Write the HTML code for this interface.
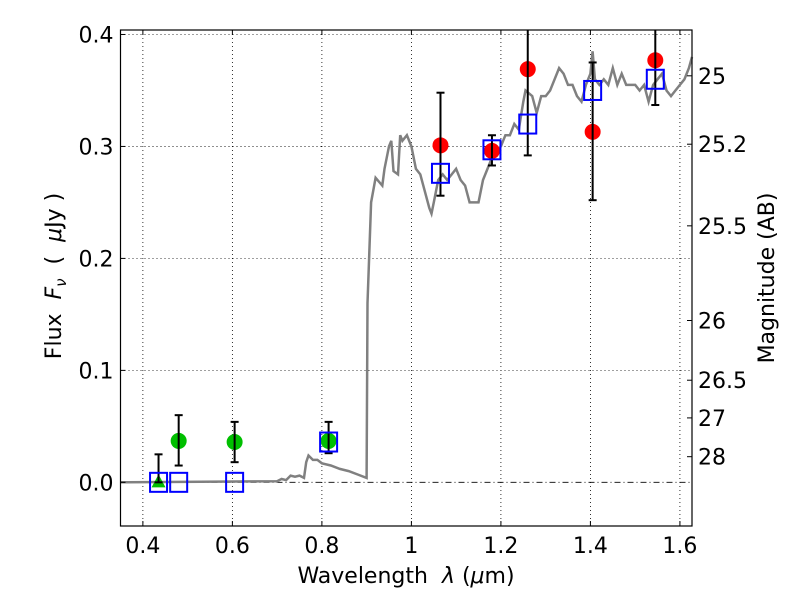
<!DOCTYPE html>
<html><head><meta charset="utf-8"><style>
body{margin:0;background:#fff}
svg text{font-family:"DejaVu Sans","Liberation Sans",sans-serif;fill:#000}
</style></head><body>
<svg id="chart" width="800" height="600" xmlns="http://www.w3.org/2000/svg">
<rect width="800" height="600" fill="#fff"/>
<g id="grid"></g>
<g id="spec"></g>
<g id="marks"></g>
<rect x="120.5" y="30" width="571.5" height="496" fill="none" stroke="#000" stroke-width="1.2"/>
<g id="axes"></g>
<text x="406" y="583" font-size="22" text-anchor="middle" xml:space="preserve">Wavelength  <tspan font-style="italic">λ</tspan> (<tspan font-style="italic">μ</tspan>m)</text>
<text transform="translate(61,276) rotate(-90)" font-size="22" text-anchor="middle" xml:space="preserve">Flux  <tspan font-style="italic">F</tspan><tspan font-style="italic" font-size="15" dy="5">ν</tspan><tspan dy="-5">  (  </tspan><tspan font-style="italic">μ</tspan>Jy )</text>
<text transform="translate(774,278) rotate(-90)" font-size="22" text-anchor="middle">Magnitude (AB)</text>
</svg>
<script>
const xTicks=[0.4,0.6,0.8,1.0,1.2,1.4,1.6];
const xTickLabels=["0.4","0.6","0.8","1","1.2","1.4","1.6"];
const yTicks=[0.0,0.1,0.2,0.3,0.4];
const yTickLabels=["0.0","0.1","0.2","0.3","0.4"];
const magTicks=[25,25.2,25.5,26,26.5,27,28];
const magTickLabels=["25","25.2","25.5","26","26.5","27","28"];
const specWave=[0.35,0.70,0.71,0.72,0.73,0.74,0.75,0.76,0.765,0.77,0.78,0.79,0.80,0.82,0.84,0.86,0.88,0.90,0.902,0.91,0.92,0.935,0.94,0.95,0.955,0.96,0.97,0.975,0.98,0.99,1.0,1.01,1.02,1.03,1.04,1.045,1.05,1.06,1.07,1.08,1.09,1.10,1.11,1.12,1.13,1.15,1.16,1.18,1.19,1.20,1.21,1.22,1.23,1.24,1.25,1.255,1.27,1.28,1.29,1.30,1.31,1.32,1.33,1.34,1.35,1.36,1.37,1.38,1.39,1.40,1.405,1.41,1.42,1.43,1.44,1.45,1.46,1.47,1.48,1.49,1.50,1.51,1.52,1.53,1.54,1.55,1.56,1.57,1.58,1.59,1.60,1.61,1.62,1.627];
const specFlux=[0.0,0.001,0.003,0.002,0.006,0.005,0.006,0.004,0.018,0.024,0.020,0.020,0.017,0.015,0.012,0.010,0.007,0.004,0.16,0.25,0.272,0.265,0.28,0.30,0.305,0.278,0.275,0.31,0.305,0.31,0.30,0.28,0.275,0.26,0.245,0.24,0.25,0.27,0.275,0.27,0.275,0.28,0.27,0.265,0.25,0.25,0.27,0.29,0.295,0.30,0.31,0.31,0.32,0.315,0.34,0.35,0.345,0.33,0.345,0.345,0.35,0.36,0.37,0.365,0.355,0.355,0.345,0.34,0.355,0.365,0.385,0.36,0.355,0.36,0.355,0.37,0.355,0.365,0.355,0.355,0.355,0.35,0.355,0.34,0.355,0.36,0.365,0.35,0.345,0.35,0.355,0.36,0.37,0.38];
const greenWave=[0.48,0.605,0.815];
const greenFlux=[0.037,0.036,0.037];
const greenLo=[0.015,0.018,0.026];
const greenHi=[0.060,0.054,0.054];
const triWave=[0.435];
const triFlux=[0.0];
const triHi=[0.025];
const redWave=[1.065,1.18,1.26,1.405,1.545];
const redFlux=[0.301,0.296,0.369,0.313,0.377];
const redLo=[0.256,0.283,0.292,0.252,0.337];
const redHi=[0.348,0.310,0.45,0.375,0.45];
const modelWave=[0.435,0.48,0.605,0.815,1.065,1.18,1.26,1.405,1.545];
const modelFlux=[0.0,0.0,0.0,0.036,0.276,0.297,0.320,0.350,0.360];

const X0=120.5,X1=692,Y0=526,Y1=30,xmin=0.35,xmax=1.627,ymin=-0.039,ymax=0.404;
const sx=v=>X0+(v-xmin)/(xmax-xmin)*(X1-X0);
const sy=v=>Y0-(v-ymin)/(ymax-ymin)*(Y0-Y1);
const magToFlux=m=>Math.pow(10,(23.9-m)/2.5);
const NS="http://www.w3.org/2000/svg";
function mk(tag,attrs,parent){const e=document.createElementNS(NS,tag);for(const k in attrs)e.setAttribute(k,attrs[k]);parent.appendChild(e);return e;}
const grid=document.getElementById('grid'),axes=document.getElementById('axes'),spec=document.getElementById('spec'),marks=document.getElementById('marks');
xTicks.forEach((t,i)=>{const x=sx(t);
 let g=mk('line',{x1:x,x2:x,y1:Y1,y2:Y0,stroke:'#000','stroke-width':0.8,'stroke-dasharray':'1,3'},grid);
 
 mk('line',{x1:x,x2:x,y1:Y0,y2:Y0-5,stroke:'#000'},axes);
 mk('line',{x1:x,x2:x,y1:Y1,y2:Y1+5,stroke:'#000'},axes);
 let l=mk('text',{x:x,y:Y0+27,'font-size':22,'text-anchor':'middle'},axes);l.textContent=xTickLabels[i];
 });
yTicks.forEach((t,i)=>{const y=sy(t);
 let g=mk('line',{x1:X0,x2:X1,y1:y,y2:y,stroke:'#000','stroke-width':0.8,'stroke-dasharray':t===0?'6,3,1,3':'1,3'},grid);
 
 mk('line',{x1:X0,x2:X0+5,y1:y,y2:y,stroke:'#000'},axes);
 let l=mk('text',{x:X0-7,y:y+8,'font-size':22,'text-anchor':'end'},axes);l.textContent=yTickLabels[i];
 });
magTicks.forEach((m,i)=>{const y=sy(magToFlux(m));
 mk('line',{x1:X1,x2:X1-5,y1:y,y2:y,stroke:'#000'},axes);
 let l=mk('text',{x:X1+6,y:y+8,'font-size':22},axes);l.textContent=magTickLabels[i];
 });
let d=specWave.map((w,i)=>(i?'L':'M')+sx(w).toFixed(1)+','+sy(specFlux[i]).toFixed(1)).join(' ');
const sp=mk('path',{d:d,fill:'none',stroke:'#808080','stroke-width':2.5},spec);

function err(x,lo,hi){const X=sx(x),a=Math.max(sy(hi),Y1),b=sy(lo);
 const g=mk('g',{},marks);
 
 mk('line',{x1:X,x2:X,y1:a,y2:b,stroke:'#000','stroke-width':2},g);
 if(sy(hi)>Y1)mk('line',{x1:X-4,x2:X+4,y1:a,y2:a,stroke:'#000','stroke-width':2},g);
 mk('line',{x1:X-4,x2:X+4,y1:b,y2:b,stroke:'#000','stroke-width':2},g);}
triWave.forEach((w,i)=>{const X=sx(w),Y=sy(triFlux[i]);
 const t=mk('polygon',{points:`${X},${Y-8} ${X-7},${Y+5} ${X+7},${Y+5}`,fill:'#00bf00'},marks);
 
 err(w,triFlux[i],triHi[i]);});
greenWave.forEach((w,i)=>{const c=mk('circle',{cx:sx(w),cy:sy(greenFlux[i]),r:8,fill:'#00bf00'},marks);
 
 err(w,greenLo[i],greenHi[i]);});
redWave.forEach((w,i)=>{const c=mk('circle',{cx:sx(w),cy:sy(redFlux[i]),r:8,fill:'#ff0000'},marks);
 
 err(w,redLo[i],redHi[i]);});
modelWave.forEach((w,i)=>{const r=mk('rect',{x:sx(w)-8.5,y:sy(modelFlux[i])-9.5,width:17,height:19,fill:'none',stroke:'#0000ff','stroke-width':2},marks);
 });
</script>
</body></html>
